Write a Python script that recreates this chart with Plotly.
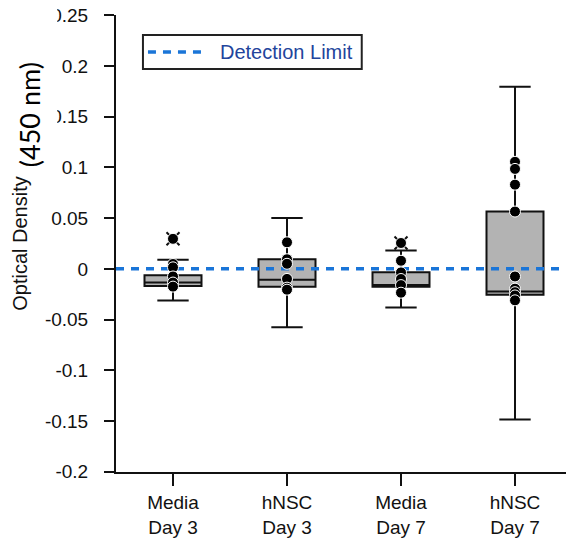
import plotly.graph_objects as go

# ---------------- data ----------------
categories = ["Media<br>Day 3", "hNSC<br>Day 3", "Media<br>Day 7", "hNSC<br>Day 7"]
positions = [0, 1, 2, 3]

q1 = [-0.0168, -0.0177, -0.0177, -0.0256]
median = [-0.0135, -0.0108, -0.0158, -0.0224]
q3 = [-0.0063, 0.0095, -0.0033, 0.0565]
lower_whisker = [-0.0312, -0.0575, -0.0380, -0.1485]
upper_whisker = [0.0089, 0.0502, 0.0180, 0.1796]

points_media_d3 = [0.0296, 0.0048, 0.0015, -0.0075, -0.0135, -0.0175]
points_hnsc_d3 = [0.0262, 0.0095, 0.0050, -0.0099, -0.0185, -0.0205]
points_media_d7 = [0.0255, 0.0080, -0.0035, -0.0100, -0.0160, -0.0235]
points_hnsc_d7 = [0.1055, 0.0985, 0.0830, 0.0565, -0.0075, -0.0195, -0.0230, -0.0262, -0.0310]
all_points = [points_media_d3, points_hnsc_d3, points_media_d7, points_hnsc_d7]

outlier_pos = [0, 2]
outlier_val = [0.0296, 0.0255]

detection_limit = 0.0
detection_label = "Detection Limit"

ytick_vals = [0.25, 0.2, 0.15, 0.1, 0.05, 0, -0.05, -0.1, -0.15, -0.2]
ytick_text = ["0.25", "0.2", "0.15", "0.1", "0.05", "0", "-0.05", "-0.1", "-0.15", "-0.2"]

# ---------------- figure ----------------
FONT = "Liberation Sans, Arial, sans-serif"
fig = go.Figure()

fig.add_trace(go.Box(
    x=positions, q1=q1, median=median, q3=q3,
    lowerfence=lower_whisker, upperfence=upper_whisker,
    boxpoints=False, width=0.5, whiskerwidth=0.55,
    fillcolor="#b3b3b3", line=dict(color="#111111", width=2),
    showlegend=False, hoverinfo="skip",
))

# detection limit line
fig.add_trace(go.Scatter(
    x=[-0.5, 3.41], y=[detection_limit, detection_limit], mode="lines",
    line=dict(color="#1a75d8", width=3.5, dash="8px,7px"),
    showlegend=False, hoverinfo="skip",
))

# outlier crosses
fig.add_trace(go.Scatter(
    x=outlier_pos, y=outlier_val, mode="markers",
    marker=dict(symbol="x-thin", size=13, line=dict(color="#111111", width=2)),
    showlegend=False, hoverinfo="skip",
))

# data points
px, py = [], []
for p, vals in zip(positions, all_points):
    px += [p] * len(vals)
    py += vals
fig.add_trace(go.Scatter(
    x=px, y=py, mode="markers",
    marker=dict(symbol="circle", size=11, color="#000000",
                line=dict(color="#ffffff", width=1)),
    showlegend=False, hoverinfo="skip",
))

# manual legend box
fig.add_shape(type="rect", xref="paper", yref="paper",
              x0=0.0591, x1=0.5389, y0=0.8818, y1=0.9562,
              line=dict(color="#222222", width=2), fillcolor="white", layer="above")
fig.add_shape(type="line", xref="paper", yref="paper",
              x0=0.0701, x1=0.2015, y0=0.919, y1=0.919,
              line=dict(color="#1a75d8", width=3.5, dash="8px,7px"), layer="above")
fig.add_annotation(text=detection_label, xref="paper", yref="paper",
                   x=0.2234, y=0.919, xanchor="left", yanchor="middle", showarrow=False,
                   font=dict(family=FONT, size=20, color="#22449c"))

# pasted unit label with white background covering part of tick labels
fig.add_shape(type="rect", xref="paper", yref="paper",
              x0=-0.30, x1=-0.129, y0=0.656, y1=1.04,
              line=dict(width=0), fillcolor="white", layer="above")
fig.add_annotation(text="(450 nm)", xref="paper", yref="paper",
                   x=-0.1908, y=0.783, xanchor="center", yanchor="middle",
                   textangle=-90, showarrow=False, borderpad=0,
                   font=dict(family="Lato, sans-serif", size=27, color="#000000"))

# the page body adds an 8px margin, so the figure is 8px smaller than the window
fig.update_layout(
    width=566, height=534,
    margin=dict(l=108, r=2, t=7, b=70),
    paper_bgcolor="white", plot_bgcolor="white",
    font=dict(family=FONT, size=19, color="#111111"),
    xaxis=dict(range=[-0.5, 3.5], tickvals=positions, ticktext=categories,
               showline=True, linecolor="#111111", linewidth=2, automargin=False,
               ticks="outside", ticklen=12, tickwidth=2, tickcolor="#111111",
               showgrid=False, zeroline=False, tickfont=dict(size=19)),
    yaxis=dict(range=[-0.2002, 0.2502], tickvals=ytick_vals, ticktext=ytick_text,
               showline=True, linecolor="#111111", linewidth=2, automargin=False,
               ticks="outside", ticklen=10, tickwidth=2, tickcolor="#111111",
               showgrid=False, zeroline=False, tickfont=dict(size=19),
               ticklabelstandoff=12, ticklabeloverflow="allow",
               title=dict(text="Optical Density", standoff=12,
                          font=dict(family=FONT, size=20))),
)

fig.write_html("out.html")
